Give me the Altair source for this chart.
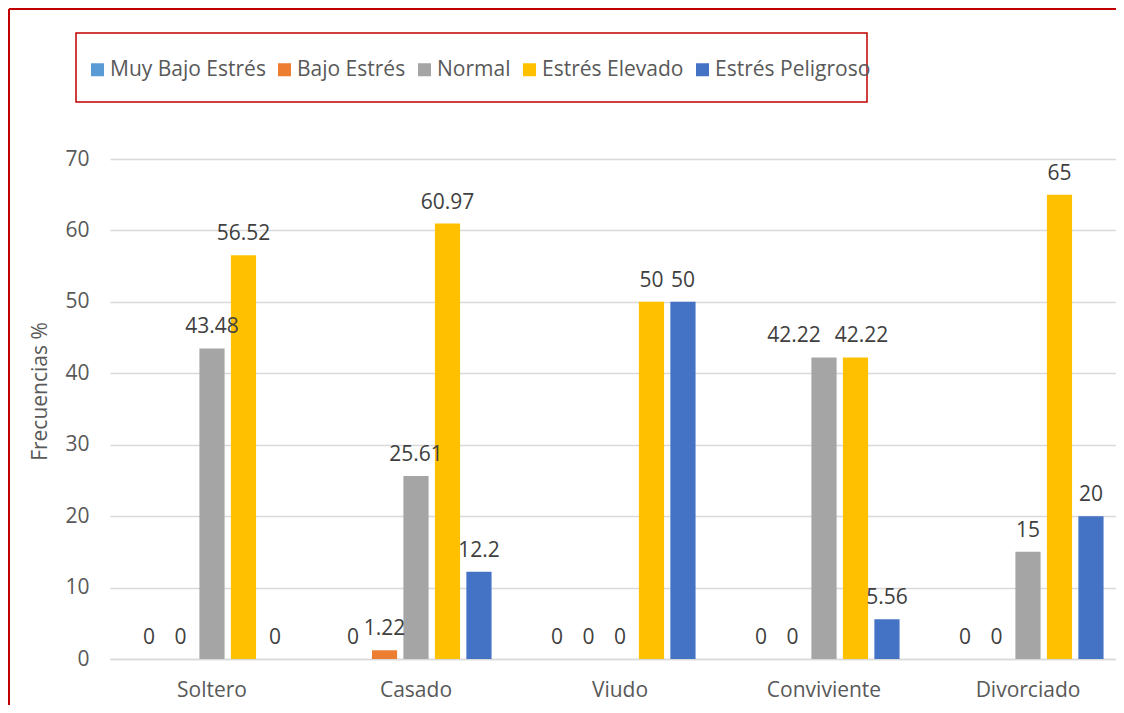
import altair as alt
import pandas as pd

categories = ["Soltero", "Casado", "Viudo", "Conviviente", "Divorciado"]
levels = ["Muy Bajo Estrés", "Bajo Estrés", "Normal", "Estrés Elevado", "Estrés Peligroso"]
colors = ["#5B9BD5", "#ED7D31", "#A5A5A5", "#FFC000", "#4472C4"]

muy_bajo = [0, 0, 0, 0, 0]
bajo = [0, 1.22, 0, 0, 0]
normal = [43.48, 25.61, 0, 42.22, 15]
elevado = [56.52, 60.97, 50, 42.22, 65]
peligroso = [0, 12.2, 50, 5.56, 20]

series = [muy_bajo, bajo, normal, elevado, peligroso]
rows = []
for lvl, vals in zip(levels, series):
    for cat, v in zip(categories, vals):
        rows.append({"Estado": cat, "Nivel": lvl, "Valor": v})
df = pd.DataFrame(rows)

FONT = "Open Sans"
TXT = "#595959"
FS = 21

base = alt.Chart(df).encode(
    x=alt.X(
        "Estado:N",
        sort=categories,
        scale=alt.Scale(paddingInner=0, paddingOuter=0, range=[0, 1020]),
        axis=alt.Axis(
            labelAngle=0, domain=True, domainColor="#D9D9D9", domainWidth=1.5,
            ticks=False, labelPadding=20, title=None,
            labelFontSize=FS, labelColor=TXT, labelFont=FONT,
        ),
    ),
    xOffset=alt.XOffset(
        "Nivel:N", sort=levels,
        scale=alt.Scale(paddingInner=0.2, paddingOuter=0.84),
    ),
    y=alt.Y(
        "Valor:Q",
        scale=alt.Scale(domain=[0, 70], nice=False),
        axis=alt.Axis(
            values=[0, 10, 20, 30, 40, 50, 60, 70],
            grid=True, gridColor="#D9D9D9", gridWidth=1.5,
            domain=False, ticks=False, labelPadding=21,
            labelFontSize=FS, labelColor=TXT, labelFont=FONT,
            title="Frecuencias %", titleFontSize=FS, titleFontWeight="normal",
            titleColor=TXT, titleFont=FONT,
            titleX=-70, titleY=232, titleAlign="center", titleBaseline="middle",
        ),
    ),
)

bars = base.mark_bar().encode(
    color=alt.Color(
        "Nivel:N", sort=levels,
        scale=alt.Scale(domain=levels, range=colors),
        legend=alt.Legend(
            title=None, orient="none", legendX=-23, legendY=-100,
            direction="horizontal", symbolType="square", symbolSize=169,
            symbolStrokeWidth=0, labelFontSize=FS, labelColor=TXT, labelFont=FONT,
            columnPadding=8, labelOffset=2, padding=0,
        ),
    )
)

is_conv_normal = (alt.datum.Estado == "Conviviente") & (alt.datum.Nivel == "Normal")
is_conv_elev = (alt.datum.Estado == "Conviviente") & (alt.datum.Nivel == "Estrés Elevado")

text_style = dict(baseline="alphabetic", dy=-15, fontSize=FS, font=FONT, color="#404040")
txt = alt.Text("Valor:Q", format=".4~r")

labels = base.mark_text(**text_style).encode(text=txt).transform_filter(
    ~(is_conv_normal | is_conv_elev)
)
label_cn = base.mark_text(dx=-30, **text_style).encode(text=txt).transform_filter(is_conv_normal)
label_ce = base.mark_text(dx=6, **text_style).encode(text=txt).transform_filter(is_conv_elev)

one = pd.DataFrame({"k": [0]})
frame_left = alt.Chart(one).mark_rule(color="#C00000", strokeWidth=2).encode(
    x=alt.value(-101), y=alt.value(-150), y2=alt.value(546)
)
frame_top = alt.Chart(one).mark_rule(color="#C00000", strokeWidth=2).encode(
    x=alt.value(-101), x2=alt.value(1006), y=alt.value(-150)
)
legend_box = alt.Chart(one).mark_rect(
    fill="white", fillOpacity=0, stroke="#C00000", strokeWidth=1.5
).encode(
    x=alt.value(-34), x2=alt.value(757), y=alt.value(-126), y2=alt.value(-57)
)

chart = alt.layer(
    frame_left, frame_top, legend_box, bars, labels, label_cn, label_ce
).properties(
    width=1006, height=500,
    autosize=alt.AutoSizeParams(type="none"),
    padding={"left": 102, "top": 151, "right": 0, "bottom": 46},
    background="white",
).configure_view(stroke=None)

chart.save("out.html", embed_options={"renderer": "svg", "actions": False})
